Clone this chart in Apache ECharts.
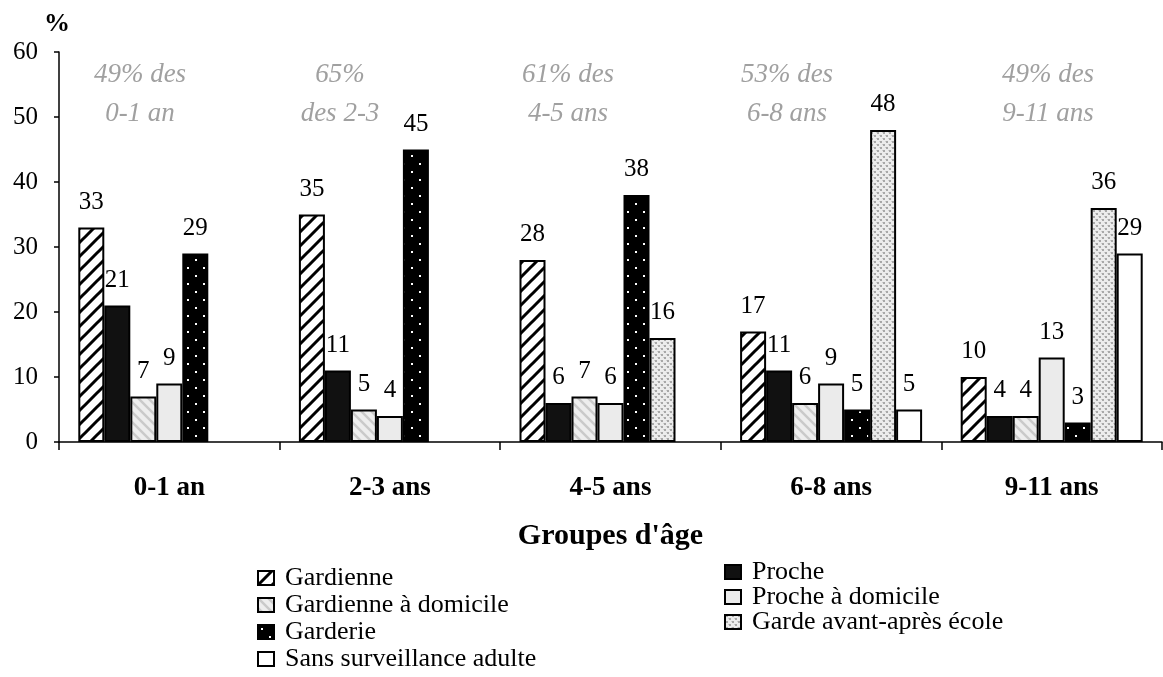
<!DOCTYPE html>
<html>
<head>
<meta charset="utf-8">
<script src="https://cdn.jsdelivr.net/npm/echarts@6/dist/echarts.min.js"></script>
<style>
  html, body { margin: 0; padding: 0; background: #fff; }
  #chart { width: 1163px; height: 677px; }
</style>
</head>
<body>
<div id="chart"></div>
<script>
// Age groups (x categories)
const categories = ['0-1 an', '2-3 ans', '4-5 ans', '6-8 ans', '9-11 ans'];

// Share of children (%) by main type of care, per age group
const gardienne          = [33, 35, 28, 17, 10];
const proche             = [21, 11, 6, 11, 4];
const gardienneDomicile  = [7, 5, 7, 6, 4];
const procheDomicile     = [9, 4, 6, 9, 13];
const garderie           = [29, 45, 38, 5, 3];
const gardeAvantApres    = [null, null, 16, 48, 36];
const sansSurveillance   = [null, null, null, 5, 29];

// Share of each age group that is in care
const noteLines = [
  ['49% des', '0-1 an'],
  ['65%', 'des 2-3'],
  ['61% des', '4-5 ans'],
  ['53% des', '6-8 ans'],
  ['49% des', '9-11 ans']
];

// Y axis ticks
const yTicks = [0, 10, 20, 30, 40, 50, 60];

// ---------- fill patterns ----------
function pattern(w, h, draw) {
  const c = document.createElement('canvas');
  c.width = w; c.height = h;
  const ctx = c.getContext('2d');
  draw(ctx, w, h);
  return { image: c, repeat: 'repeat' };
}
function diag(ctx, s, dir) {
  // dir = 1 : "/" ; dir = -1 : "\"
  ctx.beginPath();
  if (dir > 0) {
    ctx.moveTo(-2, s + 2); ctx.lineTo(s + 2, -2);
    ctx.moveTo(-2, 2); ctx.lineTo(2, -2);
    ctx.moveTo(s - 2, s + 2); ctx.lineTo(s + 2, s - 2);
  } else {
    ctx.moveTo(-2, -2); ctx.lineTo(s + 2, s + 2);
    ctx.moveTo(s - 2, -2); ctx.lineTo(s + 2, 2);
    ctx.moveTo(-2, s - 2); ctx.lineTo(2, s + 2);
  }
  ctx.stroke();
}
const fillHatch = pattern(14, 14, (ctx, w) => {
  ctx.fillStyle = '#fff'; ctx.fillRect(0, 0, w, w);
  ctx.strokeStyle = '#000'; ctx.lineWidth = 3; diag(ctx, w, 1);
});
const fillLightHatch = pattern(10, 10, (ctx, w) => {
  ctx.fillStyle = '#eeeeee'; ctx.fillRect(0, 0, w, w);
  ctx.strokeStyle = '#cacaca'; ctx.lineWidth = 2.5; diag(ctx, w, -1);
});
const fillDots = pattern(16, 16, (ctx, w) => {
  ctx.fillStyle = '#000'; ctx.fillRect(0, 0, w, w);
  ctx.fillStyle = '#fff';
  ctx.fillRect(3, 3, 2, 2); ctx.fillRect(11, 11, 2, 2);
});
const fillSpeckle = pattern(6, 6, (ctx, w) => {
  ctx.fillStyle = '#ececec'; ctx.fillRect(0, 0, w, w);
  ctx.fillStyle = '#a8a8a8';
  ctx.fillRect(1, 0, 2, 2); ctx.fillRect(4, 3, 2, 2);
  ctx.fillStyle = '#cfcfcf';
  ctx.fillRect(0, 0, 1, 1); ctx.fillRect(3, 3, 1, 1);
});

const serif = '"Liberation Serif", "Times New Roman", serif';

function bar(name, data, fill) {
  return {
    name, type: 'bar', data,
    barWidth: 26, barGap: '0%',
    itemStyle: { color: fill, borderColor: '#000', borderWidth: 2 },
    label: {
      show: true, position: 'top', distance: 13,
      fontFamily: serif, fontSize: 25, color: '#000'
    }
  };
}

const series = [
  bar('Gardienne', gardienne, fillHatch),
  bar('Proche', proche, '#111'),
  bar('Gardienne à domicile', gardienneDomicile, fillLightHatch),
  bar('Proche à domicile', procheDomicile, '#ebebeb'),
  bar('Garderie', garderie, fillDots),
  bar('Garde avant-après école', gardeAvantApres, fillSpeckle),
  bar('Sans surveillance adulte', sansSurveillance, '#fff')
];

const legendText = {
  fontFamily: serif, fontSize: 26, color: '#000',
  padding: [0, 0, 0, 6]
};

const chart = echarts.init(document.getElementById('chart'), null, { renderer: 'canvas' });
chart.setOption({
  animation: false,
  backgroundColor: '#fff',
  grid: { left: 59, right: 1, top: 52, bottom: 235 },
  xAxis: {
    type: 'category',
    data: categories,
    axisLine: { lineStyle: { color: '#000', width: 1.5 } },
    axisTick: { show: true, length: 8, lineStyle: { color: '#000', width: 1.5 } },
    axisLabel: { interval: 0, margin: 33, fontFamily: serif, fontSize: 27, fontWeight: 'bold', color: '#000' },
    name: "Groupes d'âge",
    nameLocation: 'middle',
    nameGap: 79,
    nameTextStyle: { fontFamily: serif, fontSize: 30, fontWeight: 'bold', color: '#000' }
  },
  yAxis: {
    type: 'value',
    min: yTicks[0], max: yTicks[yTicks.length - 1], interval: 10,
    axisLine: { show: true, lineStyle: { color: '#000', width: 1.5 } },
    axisTick: { show: true, length: 5, lineStyle: { color: '#000', width: 1.5 } },
    splitLine: { show: false },
    axisLabel: { margin: 21, fontFamily: serif, fontSize: 25, color: '#000' },
    name: '%',
    nameLocation: 'end',
    nameGap: 15,
    nameTextStyle: { fontFamily: serif, fontSize: 26, fontWeight: 'bold', color: '#000', padding: [0, 4, 0, 0] }
  },
  legend: [
    {
      orient: 'vertical', left: 257, top: 565, height: 200, itemGap: 1, padding: 0,
      itemWidth: 16, itemHeight: 14, icon: 'rect',
      textStyle: legendText,
      data: ['Gardienne', 'Gardienne à domicile', 'Garderie', 'Sans surveillance adulte']
    },
    {
      orient: 'vertical', left: 724, top: 559, height: 200, itemGap: -1, padding: 0,
      itemWidth: 16, itemHeight: 14, icon: 'rect',
      textStyle: legendText,
      data: ['Proche', 'Proche à domicile', 'Garde avant-après école']
    }
  ],
  series
});

// Grey italic notes above each age group
const noteX = [140, 340, 568, 787, 1048];
const noteY = [75, 114];
const graphics = [];
noteLines.forEach((lines, i) => {
  lines.forEach((t, j) => {
    graphics.push({
      type: 'text',
      x: noteX[i], y: noteY[j],
      style: {
        text: t, fill: '#a0a0a0',
        font: 'italic 27px ' + serif,
        textAlign: 'center', textVerticalAlign: 'middle'
      }
    });
  });
});
chart.setOption({ graphic: graphics });
</script>
</body>
</html>
